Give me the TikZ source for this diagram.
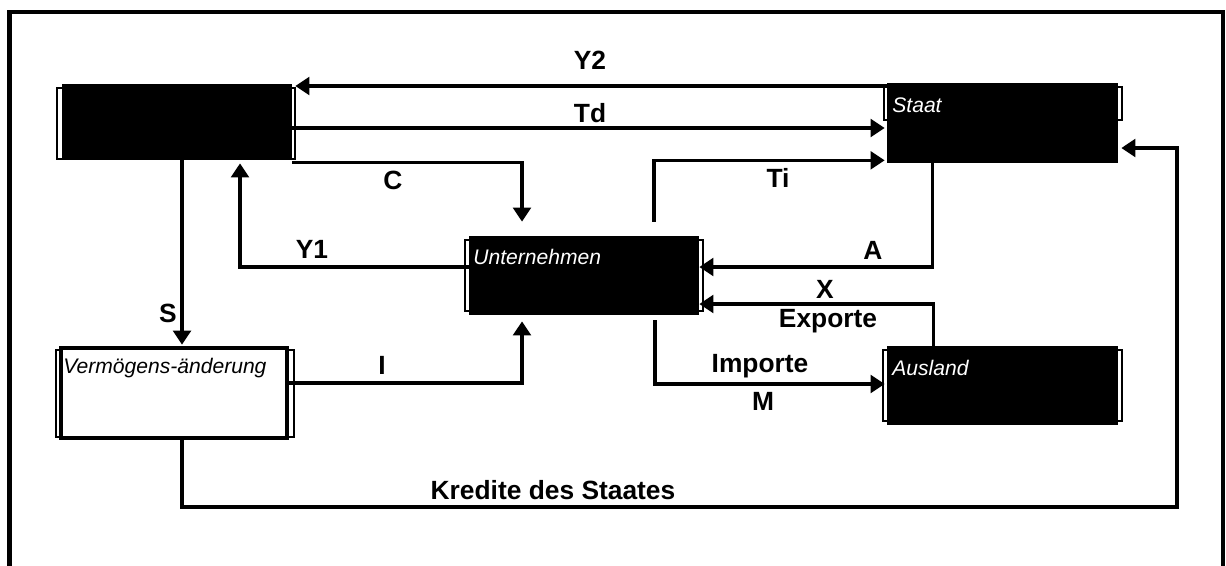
\documentclass[tikz,border=0pt]{standalone}
\usepackage{fontspec}
\setmainfont{Liberation Sans}
\usepackage{tikz}
\usetikzlibrary{arrows.meta, positioning, calc}

\begin{document}
\begin{tikzpicture}[
  x=0.02cm, y=-0.02cm,
  font=\fontsize{15}{18}\selectfont\bfseries,
  sector/.style={fill=black, inner sep=0pt, minimum width=4.6cm, minimum height=1.58cm},
  bracket/.style={draw=black, line width=0.7pt},
  flow/.style={line width=2.1pt, -{Triangle[length=8pt, width=10pt]}},
  tag/.style={inner sep=0pt},
  boxname/.style={anchor=west, inner sep=0pt, font=\fontsize{12}{14}\selectfont\mdseries\itshape}
]
  \useasboundingbox (0,0) rectangle (1226,565);
  \draw[line width=2.4pt] (9.5,575) -- (9.5,12) -- (1223,12) -- (1223,575);

  % frames behind the boxes
  \draw[bracket] (57,88) rectangle (295,159);
  \draw[bracket] (884,87) rectangle (1122,120);
  \draw[bracket] (465,240) rectangle (703,311);
  \draw[bracket] (56,350) rectangle (294,437);
  \draw[bracket] (883,350) rectangle (1122,421);

  % sectors
  \node[sector, minimum height=1.52cm] (hh) at (177,122) {};
  \node[sector, minimum width=4.62cm, minimum height=1.6cm] (st) at (1002.5,123) {};
  \node[sector] (un) at (584,275.5) {};
  \node[sector, fill=white, draw=black, line width=2.6pt,
        minimum width=4.52cm, minimum height=1.8cm] (vm) at (174,393) {};
  \node[sector, minimum width=4.62cm] (au) at (1002.5,385.5) {};

  \node[boxname, text=white] (stname) at (892,105) {Staat};
  \node[boxname, text=white] (unname) at (473,257) {Unternehmen};
  \node[boxname] (vmname) at (63,368) {Vermögens-änderung};
  \node[boxname, text=white] (auname) at (892,368) {Ausland};

  % flows
  \draw[flow] (st.west |- 0,86) -- ($(hh.east |- 0,86)+(3,0)$);
  \draw[flow] (hh.east |- 0,128) -- ($(st.west |- 0,128)+(-2,0)$);
  \draw[flow] ($(hh.south east)+(0,2)$) -| ($(un.north)+(-62,-14)$);
  \draw[flow] (un.west |- 0,267) -| ($(hh.south)+(63,3)$);
  \path ($(hh.south)+(5,0)$) coordinate (s1);
  \draw[flow] (s1) -- ($(s1 |- vm.north)+(0,-1)$);
  \draw[flow] (vm.east |- 0,383) -| ($(un.south)+(-62,6)$);
  \draw[flow] ($(un.north)+(70,-14)$) |- ($(st.south west)+(-2,-3)$);
  \draw[flow] ($(st.south)+(-70,0)$) |- (un.east |- 0,267);
  \draw[flow] ($(au.north)+(-69,0)$) |- (un.east |- 0,304);
  \draw[flow] ($(un.south)+(71,5)$) |- ($(au.west |- 0,384)+(-2,0)$);
  \coordinate (kr) at (1177,507);
  \draw[flow] ($(vm.south)+(8,0)$) |- (kr) |- ($(st.east)+(3,25)$);

  % labels
  \node[tag] (y2) at (590,60) {Y2};
  \node[tag] (td) at (590,113) {Td};
  \node[tag] (c) at (393,180) {C};
  \node[tag] (y1) at (312,249) {Y1};
  \node[tag] (s) at (168,313) {S};
  \node[tag] (i) at (382,365) {I};
  \node[tag] (ti) at (778,178) {Ti};
  \node[tag] (a) at (873,250) {A};
  \node[tag] (x) at (825,289) {X};
  \node[tag] (ex) at (828,321) {Exporte};
  \node[tag] (im) at (760,366) {Importe};
  \node[tag] (m) at (763,401) {M};
  \node[tag] (kd) at (553,490) {Kredite des Staates};
\end{tikzpicture}
\end{document}
